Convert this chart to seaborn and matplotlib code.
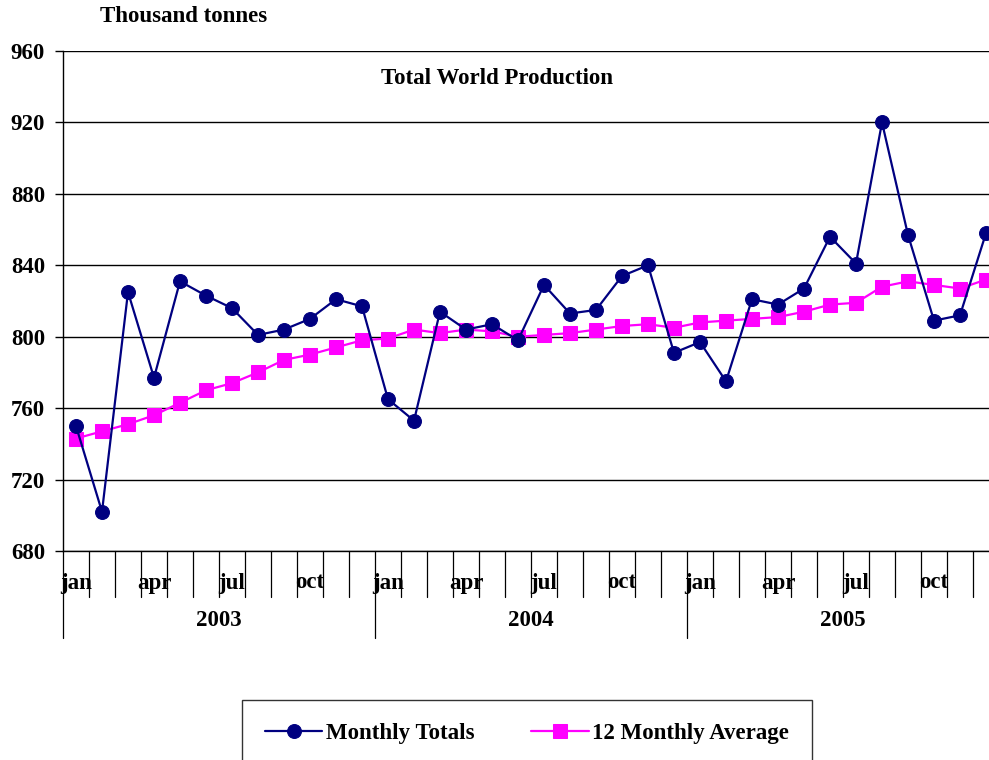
import numpy as np
import pandas as pd
import matplotlib
matplotlib.use("Agg")
import matplotlib.pyplot as plt
import matplotlib.transforms as mtransforms
import seaborn as sns

# Data: Jan 2003 - Dec 2005, thousand tonnes
years = ["2003", "2004", "2005"]
months = ["jan", "feb", "mar", "apr", "may", "jun",
          "jul", "aug", "sep", "oct", "nov", "dec"]
monthly_totals = [750, 702, 825, 777, 831, 823, 816, 801, 804, 810, 821, 817,
                  765, 753, 814, 804, 807, 798, 829, 813, 815, 834, 840, 791,
                  797, 775, 821, 818, 827, 856, 841, 920, 857, 809, 812, 858]
avg_12 = [743, 747, 751, 756, 763, 770, 774, 780, 787, 790, 794, 798,
          799, 804, 802, 804, 803, 800, 801, 802, 804, 806, 807, 805,
          808, 809, 810, 811, 814, 818, 819, 828, 831, 829, 827, 832]

df = pd.DataFrame({
    "idx": np.arange(len(monthly_totals)),
    "Monthly Totals": monthly_totals,
    "12 Monthly Average": avg_12,
})

sns.set_style("white")
plt.rcParams["font.family"] = ["Liberation Serif", "DejaVu Serif"]
plt.rcParams["font.weight"] = "bold"
plt.rcParams["text.color"] = "black"
plt.rcParams["ytick.color"] = "black"
plt.rcParams["xtick.color"] = "black"
FS = 16.5

fig = plt.figure(figsize=(9.89, 7.6), dpi=100)
ax = fig.add_axes([63 / 989, 209 / 760, 936 / 989, 500 / 760])

sns.lineplot(data=df, x="idx", y="Monthly Totals", ax=ax, color="#000080",
             marker="o", markersize=10, markeredgecolor="#000080", lw=1.6,
             label="Monthly Totals", zorder=4, legend=False)
sns.lineplot(data=df, x="idx", y="12 Monthly Average", ax=ax, color="#FF00FF",
             marker="s", markersize=9.5, markeredgecolor="#FF00FF", lw=1.6,
             label="12 Monthly Average", zorder=3, legend=False)

ax.set_xlim(-0.5, len(monthly_totals) - 0.5)
ax.set_ylim(680, 960)
ax.set_yticks(range(680, 961, 40))
ax.tick_params(axis="y", length=6, width=1, color="black", labelcolor="black",
               labelsize=FS, pad=7, left=True)
for lab in ax.get_yticklabels():
    lab.set_fontweight("bold")
ax.yaxis.grid(True, color="black", lw=1)
ax.xaxis.grid(False)
ax.set_xticks([])
ax.set_xlabel("")
ax.set_ylabel("")
for s in ["top", "right"]:
    ax.spines[s].set_visible(False)
for s in ["left", "bottom"]:
    ax.spines[s].set_color("black")
    ax.spines[s].set_linewidth(1)

# Multi-level category axis
trans = mtransforms.blended_transform_factory(ax.transData, ax.transAxes)
n = len(monthly_totals)
for b in range(n + 1):
    x = b - 0.5
    low = -0.174 if b % 12 == 0 else -0.092
    ax.plot([x, x], [0, low], color="black", lw=0.9, transform=trans, clip_on=False)
for i in range(n):
    if i % 3 == 0:
        ax.text(i, -0.064, months[i % 12], transform=trans, ha="center", va="center",
                fontsize=FS, fontweight="bold", color="black")
for k, y in enumerate(years):
    ax.text(12 * k + 5.5, -0.138, y, transform=trans, ha="center", va="center",
            fontsize=FS, fontweight="bold", color="black")

fig.text(497 / 989, 1 - 79 / 760, "Total World Production",
         ha="center", va="center", fontsize=FS, fontweight="bold", color="black")
fig.text(100 / 989, 1 - 17 / 760, "Thousand tonnes", ha="left", va="center",
         fontsize=FS, fontweight="bold", color="black")

h, l = ax.get_legend_handles_labels()
leg = fig.legend(h, l, loc="center", bbox_to_anchor=(527 / 989, 0.035), ncol=2,
                 frameon=True, fancybox=False, edgecolor="black",
                 borderpad=1.0, handlelength=2.5, columnspacing=2.5, handletextpad=0.15,
                 prop={"weight": "bold", "size": FS})
leg.get_frame().set_linewidth(1)
for t in leg.get_texts():
    t.set_color("black")

fig.savefig("out.png", dpi=100)
